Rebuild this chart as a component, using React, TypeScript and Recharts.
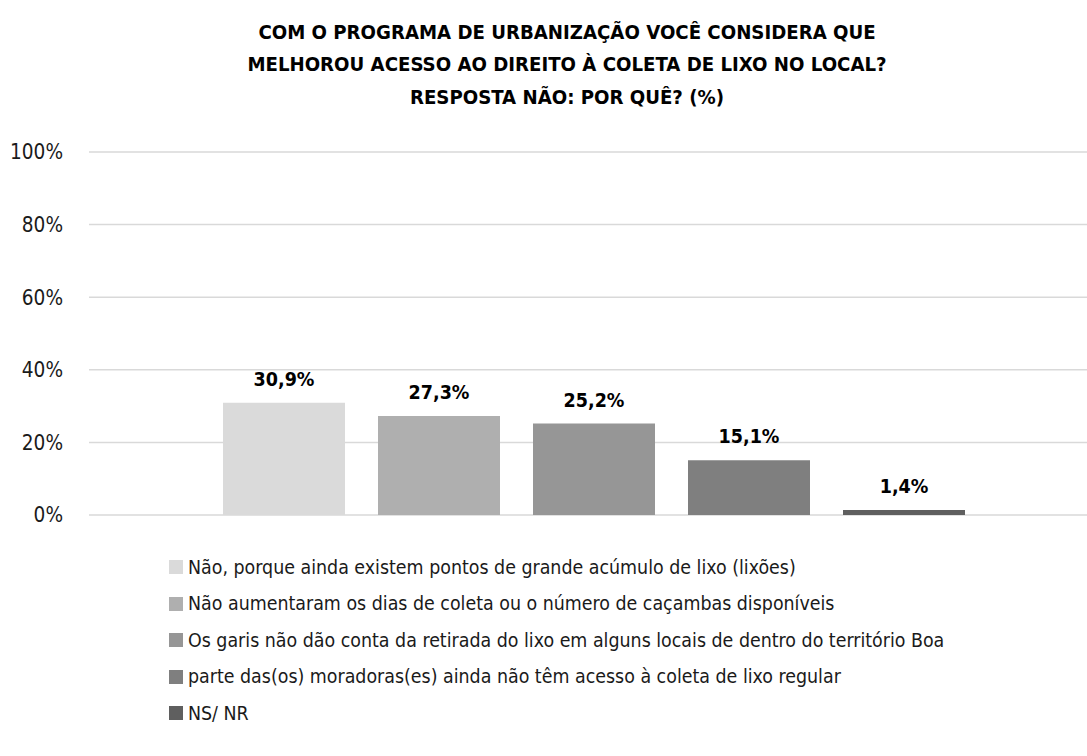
import { BarChart, Bar, XAxis, YAxis, CartesianGrid, LabelList, Legend } from "recharts"

const FONT = "'Liberation Sans Narrow', 'DejaVu Sans Condensed', 'Arial Narrow', sans-serif"

const titleLines = [
  "COM O PROGRAMA DE URBANIZAÇÃO VOCÊ CONSIDERA QUE",
  "MELHOROU ACESSO AO DIREITO À COLETA DE LIXO NO LOCAL?",
  "RESPOSTA NÃO: POR QUÊ? (%)",
]

const seriesKeys = ["lixoes", "cacambas", "garis", "acesso", "nsnr"]

const seriesNames = [
  "Não, porque ainda existem pontos de grande acúmulo de lixo (lixões)",
  "Não aumentaram os dias de coleta ou o número de caçambas disponíveis",
  "Os garis não dão conta da retirada do lixo em alguns locais de dentro do território Boa",
  "parte das(os) moradoras(es) ainda não têm acesso à coleta de lixo regular",
  "NS/ NR",
]

const seriesValues = [30.9, 27.3, 25.2, 15.1, 1.4]

const seriesColors = ["#dadada", "#afafaf", "#969696", "#7f7f7f", "#5f5f5f"]

const yTicks = [0, 20, 40, 60, 80, 100]

const row: Record<string, string | number> = { name: "Não" }
seriesKeys.forEach((k, i) => {
  row[k] = seriesValues[i]
})
const data = [row]

const fmtPct = (v: unknown) => `${Number(v).toFixed(1).replace(".", ",")}%`

function LegendList() {
  return (
    <ul style={{ listStyle: "none", margin: 0, padding: 0, fontFamily: FONT, fontSize: 19.4, color: "#1a1a1a" }}>
      {seriesNames.map((n, i) => (
        <li key={n} style={{ display: "flex", alignItems: "center", height: 36.5, whiteSpace: "nowrap" }}>
          <span
            style={{ display: "inline-block", width: 14, height: 14, background: seriesColors[i], marginRight: 5 }}
          />
          <span>{n}</span>
        </li>
      ))}
    </ul>
  )
}

export default function App() {
  return (
    <div style={{ position: "relative", width: 1087, height: 756, overflow: "hidden", background: "#fff" }}>
      <style>{"body{margin:0}"}</style>
      <div
        style={{
          position: "absolute",
          top: 16,
          left: 0,
          width: 1134,
          textAlign: "center",
          fontFamily: FONT,
          fontWeight: "bold",
          fontSize: 20.2,
          lineHeight: "32.3px",
          color: "#000",
        }}
      >
        {titleLines.map((t) => (
          <div key={t}>{t}</div>
        ))}
      </div>
      <div style={{ position: "absolute", top: 0, left: 0 }}>
        <BarChart
          width={1110}
          height={756}
          data={data}
          margin={{ top: 152, right: 12, bottom: 241, left: 0 }}
          barSize={122}
          barGap={33}
        >
          <CartesianGrid vertical={false} stroke="#d9d9d9" strokeWidth={1.5} />
          <XAxis dataKey="name" hide />
          <YAxis
            width={89}
            domain={[0, 100]}
            ticks={yTicks}
            tickFormatter={(v) => `${v}%`}
            axisLine={false}
            tickLine={false}
            tickSize={0}
            tickMargin={26}
            tick={{ fontFamily: FONT, fontSize: 20.6, fill: "#1a1a1a" }}
          />
          {seriesKeys.map((k, i) => (
            <Bar key={k} dataKey={k} name={seriesNames[i]} fill={seriesColors[i]} isAnimationActive={false}>
              <LabelList
                dataKey={k}
                position="top"
                offset={17}
                formatter={fmtPct}
                style={{ fontFamily: FONT, fontSize: 19.5, fontWeight: "bold", fill: "#000" }}
              />
            </Bar>
          ))}
          <Legend
            layout="vertical"
            align="center"
            verticalAlign="middle"
            wrapperStyle={{ left: 169, top: 549, width: "auto" }}
            content={() => <LegendList />}
          />
        </BarChart>
      </div>
    </div>
  )
}
